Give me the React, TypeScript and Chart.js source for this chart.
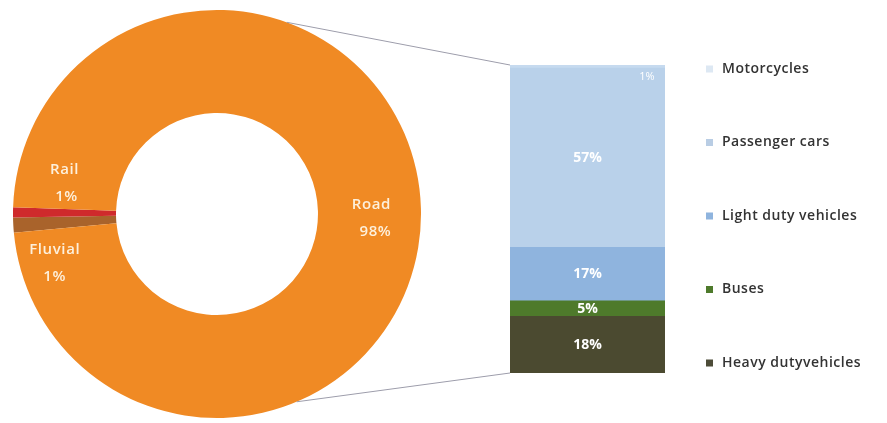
import React, { useEffect, useRef } from 'react';
import { Chart, registerables } from 'chart.js';

Chart.register(...registerables);

// Transport mode split (doughnut)
const modeLabels = ['Fluvial', 'Rail', 'Road'];
const modeShares = [1.2, 0.8, 98];
const modeColors = ['#a9632b', '#cf2a2c', '#f08a24'];

// Road split by vehicle type (stacked bar), bottom to top
const vehicleLabels = ['Heavy dutyvehicles', 'Buses', 'Light duty vehicles', 'Passenger cars', 'Motorcycles'];
const vehicleShares = [18, 5, 17, 57, 1];
const vehicleColors = ['#4b4a30', '#4e7a2b', '#8fb4de', '#b9d1ea', '#c6daef'];
const legendColors = ['#4d4c38', '#4e7a2b', '#8fb4de', '#b9cde4', '#dde8f3'];

const FONT = '"Open Sans", "DejaVu Sans", sans-serif';

const donutLabelPlugin = {
  id: 'donutLabels',
  afterDatasetsDraw(chart: any, _args: any, opts: any) {
    const ctx = chart.ctx;
    const meta = chart.getDatasetMeta(0);
    const ds = chart.data.datasets[0];
    ctx.save();
    ctx.font = opts.font;
    ctx.fillStyle = opts.color;
    ctx.textAlign = 'center';
    ctx.textBaseline = 'middle';
    if ('letterSpacing' in ctx) (ctx as any).letterSpacing = opts.letterSpacing;
    meta.data.forEach((arc: any, i: number) => {
      const p = arc.getCenterPoint();
      const off = opts.offsets[i] || { dx: 0, dy: 0, pdx: 0 };
      const x = p.x + off.dx;
      const y = p.y + off.dy;
      ctx.fillText(chart.data.labels[i], x, y - opts.lineGap / 2);
      ctx.fillText(Math.round(ds.data[i]) + '%', x + (off.pdx || 0), y + opts.lineGap / 2);
    });
    ctx.restore();
  },
};

const barExtrasPlugin = {
  id: 'barExtras',
  afterDatasetsDraw(chart: any, _args: any, opts: any) {
    const ctx = chart.ctx;
    const n = chart.data.datasets.length;
    const bottomBar = chart.getDatasetMeta(0).data[0];
    const topBar = chart.getDatasetMeta(n - 1).data[0];
    const left = bottomBar.x - bottomBar.width / 2;
    const right = bottomBar.x + bottomBar.width / 2;
    const barTop = topBar.y;
    const barBottom = bottomBar.base;

    // connector lines from doughnut
    const donut = opts.getDonut && opts.getDonut();
    if (donut) {
      const arc = donut.getDatasetMeta(0).data[0];
      if (arc) {
        const r = arc.outerRadius;
        const a1 = (opts.topAngle * Math.PI) / 180;
        const a2 = (opts.bottomAngle * Math.PI) / 180;
        ctx.save();
        ctx.strokeStyle = opts.lineColor;
        ctx.lineWidth = 1;
        ctx.beginPath();
        ctx.moveTo(arc.x + r * Math.sin(a1), arc.y - r * Math.cos(a1));
        ctx.lineTo(left, barTop);
        ctx.moveTo(arc.x + r * Math.sin(a2), arc.y - r * Math.cos(a2));
        ctx.lineTo(left, barBottom);
        ctx.stroke();
        ctx.restore();
      }
    }

    // value labels
    ctx.save();
    ctx.fillStyle = opts.labelColor;
    ctx.textAlign = 'center';
    ctx.textBaseline = 'middle';
    chart.data.datasets.forEach((ds: any, i: number) => {
      const bar = chart.getDatasetMeta(i).data[0];
      const text = ds.data[0] + '%';
      if (i === n - 1) {
        ctx.font = opts.smallFont;
        ctx.fillText(text, right - 18, bar.y + 12);
      } else {
        ctx.font = opts.labelFont;
        ctx.fillText(text, bar.x, (bar.y + bar.base) / 2);
      }
    });
    ctx.restore();

    // legend (top to bottom = top of stack first)
    ctx.save();
    ctx.font = opts.legendFont;
    ctx.textAlign = 'left';
    ctx.textBaseline = 'middle';
    if ('letterSpacing' in ctx) (ctx as any).letterSpacing = opts.legendLetterSpacing;
    for (let k = 0; k < n; k++) {
      const i = n - 1 - k;
      const y = opts.legendTop + k * opts.legendStep;
      ctx.fillStyle = opts.legendColors[i];
      ctx.fillRect(opts.legendX, y - 3.5, 7, 7);
      ctx.fillStyle = opts.legendTextColor;
      ctx.fillText(chart.data.datasets[i].label, opts.legendX + 16, y);
    }
    ctx.restore();
  },
};

export default function App() {
  const donutRef = useRef<HTMLCanvasElement | null>(null);
  const barRef = useRef<HTMLCanvasElement | null>(null);

  useEffect(() => {
    if (!donutRef.current || !barRef.current) return;
    const donut = new Chart(donutRef.current, {
      type: 'doughnut',
      data: {
        labels: modeLabels,
        datasets: [
          {
            data: modeShares,
            backgroundColor: modeColors,
            borderWidth: 0,
          },
        ],
      },
      options: {
        animation: false,
        responsive: true,
        maintainAspectRatio: false,
        rotation: 264.7,
        cutout: '49.5%',
        layout: { padding: { left: 13, top: 10, right: 466, bottom: 5 } },
        plugins: {
          legend: { display: false },
          tooltip: { enabled: false },
          donutLabels: {
            font: `600 15px ${FONT}`,
            color: '#fdf0dc',
            letterSpacing: '0.6px',
            lineGap: 27,
            offsets: [
              { dx: -10, dy: 41, pdx: 0 },
              { dx: 0, dy: -30, pdx: 2 },
              { dx: 2, dy: 9, pdx: 4 },
            ],
          },
        } as any,
      },
      plugins: [donutLabelPlugin],
    });

    const bar = new Chart(barRef.current, {
      type: 'bar',
      data: {
        labels: ['Road'],
        datasets: vehicleLabels.map((label, i) => ({
          label,
          data: [vehicleShares[i]],
          backgroundColor: vehicleColors[i],
          borderWidth: 0,
          barPercentage: 1,
          categoryPercentage: 1,
        })),
      },
      options: {
        animation: false,
        responsive: true,
        maintainAspectRatio: false,
        layout: { padding: { left: 510, right: 222, top: 65, bottom: 50 } },
        scales: {
          x: { stacked: true, display: false },
          y: { stacked: true, display: false, min: 0, max: 98 },
        },
        plugins: {
          legend: { display: false },
          tooltip: { enabled: false },
          barExtras: {
            getDonut: () => donut,
            topAngle: 20,
            bottomAngle: 157,
            lineColor: '#9d9dab',
            labelColor: '#ffffff',
            labelFont: `bold 14px ${FONT}`,
            smallFont: `11px ${FONT}`,
            legendFont: `600 14px ${FONT}`,
            legendLetterSpacing: '0.5px',
            legendTextColor: '#333333',
            legendColors,
            legendX: 706,
            legendTop: 69,
            legendStep: 73.5,
          },
        } as any,
      },
      plugins: [barExtrasPlugin],
    });

    return () => {
      bar.destroy();
      donut.destroy();
    };
  }, []);

  const layer: React.CSSProperties = { position: 'absolute', left: 0, top: 0, width: 887, height: 423 };
  return (
    <div style={{ position: 'absolute', left: 0, top: 0, width: 887, height: 423, background: '#ffffff' }}>
      <div style={layer}>
        <canvas ref={donutRef} />
      </div>
      <div style={{ ...layer, pointerEvents: 'none' }}>
        <canvas ref={barRef} />
      </div>
    </div>
  );
}
